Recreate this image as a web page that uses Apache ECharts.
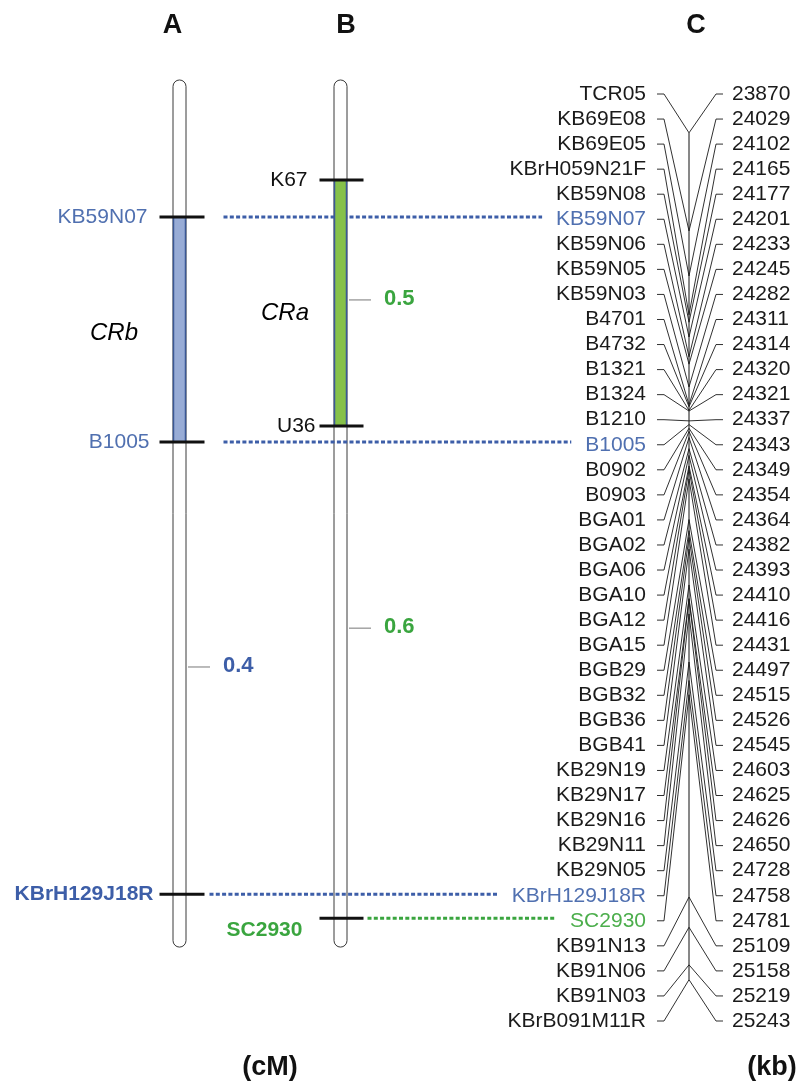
<!DOCTYPE html>
<html>
<head>
<meta charset="utf-8">
<script src="https://cdn.jsdelivr.net/npm/echarts@6/dist/echarts.min.js"></script>
<style>
  html, body { margin: 0; padding: 0; background: #ffffff; }
  #main { width: 808px; height: 1085px; }
</style>
</head>
<body>
<div id="main"></div>
<script>
// ---- Physical map (panel C): marker order and physical position (kb) ----
const physMarkers = [
  'TCR05', 'KB69E08', 'KB69E05', 'KBrH059N21F', 'KB59N08', 'KB59N07', 'KB59N06',
  'KB59N05', 'KB59N03', 'B4701', 'B4732', 'B1321', 'B1324', 'B1210', 'B1005',
  'B0902', 'B0903', 'BGA01', 'BGA02', 'BGA06', 'BGA10', 'BGA12', 'BGA15', 'BGB29',
  'BGB32', 'BGB36', 'BGB41', 'KB29N19', 'KB29N17', 'KB29N16', 'KB29N11', 'KB29N05',
  'KBrH129J18R', 'SC2930', 'KB91N13', 'KB91N06', 'KB91N03', 'KBrB091M11R'
];
const physKb = [
  23870, 24029, 24102, 24165, 24177, 24201, 24233,
  24245, 24282, 24311, 24314, 24320, 24321, 24337, 24343,
  24349, 24354, 24364, 24382, 24393, 24410, 24416, 24431, 24497,
  24515, 24526, 24545, 24603, 24625, 24626, 24650, 24728,
  24758, 24781, 25109, 25158, 25219, 25243
];

// ---- Genetic maps (panels A and B), positions on the shared row scale ----
const mapAMarkers = ['KB59N07', 'B1005', 'KBrH129J18R'];
const mapAPos = [4.91, 13.89, 31.94];
const mapBMarkers = ['K67', 'U36', 'SC2930'];
const mapBPos = [3.43, 13.25, 32.9];
const chromSpan = [-0.56, 34.05];

// Resistance-gene intervals
const regionA = ['KB59N07', 'B1005'];
const regionB = ['K67', 'U36'];
const geneNames = ['CRb', 'CRa'];
const genePos = [9.54, 8.74];

// Genetic distances (cM) between markers
const intervalText = ['0.4', '0.5', '0.6'];
const intervalChrom = ['A', 'B', 'B'];
const intervalPos = [22.87, 8.22, 21.32];

// Markers shared between the genetic maps and the physical map
const sharedMarkers = ['KB59N07', 'B1005', 'KBrH129J18R', 'SC2930'];

const panelTitles = ['A', 'B', 'C'];
const unitLabels = ['(cM)', '(kb)'];

// ---- Layout and styling ----
const FAMILY = '"Liberation Sans", Arial, Helvetica, sans-serif';
const COL = { A: 179.5, B: 340.5 };
const CHROM_W = 13;
const TICK = { A: [-20, 25], B: [-21, 23] };
const LABEL_GAP = { KB59N07: 12, B1005: 10, KBrH129J18R: 6, K67: 12, U36: 4 };
const LINK_GAP = { KB59N07: 19, B1005: 19, KBrH129J18R: 5, SC2930: 4 };
const GENE_DX = { CRb: -65.5, CRa: -55.5 };
const C_CENTER = 689;
const C_NAME_RIGHT = 646;
const C_KB_LEFT = 732;
const BLUE = '#3d5ea8';
const BLUE_LIGHT = '#5070b0';
const GREEN = '#3aa53f';
const GREEN_LIGHT = '#4cae4c';
const markerStyle = {
  KB59N07: { color: BLUE_LIGHT, weight: 'normal' },
  B1005: { color: BLUE_LIGHT, weight: 'normal' },
  KBrH129J18R: { color: BLUE, weight: 'bold' },
  K67: { color: '#111', weight: 'normal' },
  U36: { color: '#111', weight: 'normal' },
  SC2930: { color: GREEN, weight: 'bold' }
};
const physHighlight = { KB59N07: BLUE_LIGHT, B1005: BLUE_LIGHT, KBrH129J18R: BLUE_LIGHT, SC2930: GREEN_LIGHT };

const measureCtx = document.createElement('canvas').getContext('2d');
function textWidth(str, font) { measureCtx.font = font; return measureCtx.measureText(str).width; }

function txt(text, x, y, font, fill, align, valign) {
  return {
    type: 'text',
    style: {
      text: text, x: x, y: y, font: font, fill: fill,
      textAlign: align, textVerticalAlign: valign, align: align, verticalAlign: valign
    }
  };
}

const chart = echarts.init(document.getElementById('main'), null, { renderer: 'canvas' });

const genetic = [];
mapAMarkers.forEach((m, i) => genetic.push({ chrom: 'A', name: m, pos: mapAPos[i] }));
mapBMarkers.forEach((m, i) => genetic.push({ chrom: 'B', name: m, pos: mapBPos[i] }));
const posOf = name => genetic.find(g => g.name === name);

// Chromosome bars
const chromSeries = {
  type: 'custom', xAxisIndex: 0, yAxisIndex: 0, z: 1, silent: true,
  data: ['A', 'B'].map(c => [COL[c], chromSpan[0], chromSpan[1]]),
  renderItem: (params, api) => {
    const t = api.coord([api.value(0), api.value(1)]);
    const b = api.coord([api.value(0), api.value(2)]);
    return {
      type: 'rect',
      shape: { x: t[0] - CHROM_W / 2, y: t[1], width: CHROM_W, height: b[1] - t[1], r: CHROM_W / 2 },
      style: { fill: '#ffffff', stroke: '#3a3a3a', lineWidth: 1 }
    };
  }
};

// Dotted lines linking shared markers to the physical map labels
const nameFont = '21px ' + FAMILY;
const linkSeries = {
  type: 'custom', xAxisIndex: 0, yAxisIndex: 0, z: 2, silent: true,
  data: sharedMarkers.map(name => {
    const g = posOf(name);
    const start = COL[g.chrom] + TICK[g.chrom][1] + LINK_GAP[name];
    const end = C_NAME_RIGHT - textWidth(name, nameFont) - 14;
    return [start, g.pos, end, g.chrom === 'A' ? 0 : 1];
  }),
  renderItem: (params, api) => {
    const a = api.coord([api.value(0), api.value(1)]);
    const b = api.coord([api.value(2), api.value(1)]);
    return {
      type: 'line',
      shape: { x1: a[0], y1: a[1], x2: b[0], y2: b[1] },
      style: { stroke: api.value(3) === 0 ? BLUE : GREEN, lineWidth: 3, lineDash: [4, 2.3] }
    };
  }
};

// Resistance-gene regions
const regionSeries = {
  type: 'custom', xAxisIndex: 0, yAxisIndex: 0, z: 3, silent: true,
  data: [
    [COL.A, posOf(regionA[0]).pos, posOf(regionA[1]).pos, 0],
    [COL.B, posOf(regionB[0]).pos, posOf(regionB[1]).pos, 1]
  ],
  renderItem: (params, api) => {
    const t = api.coord([api.value(0), api.value(1)]);
    const b = api.coord([api.value(0), api.value(2)]);
    return {
      type: 'rect',
      shape: { x: t[0] - CHROM_W / 2 + 0.5, y: t[1], width: CHROM_W - 1, height: b[1] - t[1] },
      style: { fill: api.value(3) === 0 ? '#98acd6' : '#86c14a', stroke: '#3b5896', lineWidth: 1.5 }
    };
  }
};

// Gene names inside the maps
const geneSeries = {
  type: 'custom', xAxisIndex: 0, yAxisIndex: 0, z: 4, silent: true,
  data: geneNames.map((g, i) => [COL[i === 0 ? 'A' : 'B'] + GENE_DX[g], genePos[i], i]),
  renderItem: (params, api) => {
    const p = api.coord([api.value(0), api.value(1)]);
    return txt(geneNames[api.value(2)], p[0], p[1], 'italic 24px ' + FAMILY, '#000', 'center', 'middle');
  }
};

// Marker ticks and labels on the genetic maps
const markerSeries = {
  type: 'custom', xAxisIndex: 0, yAxisIndex: 0, z: 5, silent: true,
  data: genetic.map((g, i) => [COL[g.chrom], g.pos, i]),
  renderItem: (params, api) => {
    const g = genetic[api.value(2)];
    const c = api.coord([api.value(0), api.value(1)]);
    const x1 = c[0] + TICK[g.chrom][0], x2 = c[0] + TICK[g.chrom][1];
    const st = markerStyle[g.name];
    const font = (st.weight === 'bold' ? 'bold ' : '') + '21px ' + FAMILY;
    let label;
    if (g.name === 'SC2930') {
      label = txt(g.name, x1 - 55, c[1] + 12, font, st.color, 'center', 'middle');
    } else {
      label = txt(g.name, x1 - LABEL_GAP[g.name], c[1], font, st.color, 'right', 'middle');
    }
    return {
      type: 'group',
      children: [
        { type: 'line', shape: { x1: x1, y1: c[1], x2: x2, y2: c[1] }, style: { stroke: '#111', lineWidth: 3 } },
        label
      ]
    };
  }
};

// Genetic distance marks
const intervalSeries = {
  type: 'custom', xAxisIndex: 0, yAxisIndex: 0, z: 5, silent: true,
  data: intervalText.map((t, i) => [COL[intervalChrom[i]], intervalPos[i], i]),
  renderItem: (params, api) => {
    const i = api.value(2);
    const c = api.coord([api.value(0), api.value(1)]);
    const x1 = c[0] + CHROM_W / 2 + 2, x2 = x1 + 22;
    return {
      type: 'group',
      children: [
        { type: 'line', shape: { x1: x1, y1: c[1], x2: x2, y2: c[1] }, style: { stroke: '#777', lineWidth: 1 } },
        txt(intervalText[i], x2 + 13, c[1] - 1, 'bold 22px ' + FAMILY, intervalChrom[i] === 'A' ? BLUE : GREEN, 'left', 'middle')
      ]
    };
  }
};

// Physical map: central axis in kb
const axisSeries = {
  type: 'custom', xAxisIndex: 0, yAxisIndex: 1, z: 1, silent: true,
  data: [[C_CENTER, physKb[0], physKb[physKb.length - 1]]],
  renderItem: (params, api) => {
    const a = api.coord([api.value(0), api.value(1)]);
    const b = api.coord([api.value(0), api.value(2)]);
    return { type: 'line', shape: { x1: a[0], y1: a[1], x2: b[0], y2: b[1] }, style: { stroke: '#111', lineWidth: 1 } };
  }
};

// Physical map: marker labels, kb labels and connectors to the kb axis
const physSeries = {
  type: 'custom', xAxisIndex: 0, yAxisIndex: 0, z: 2, silent: true,
  data: physMarkers.map((m, i) => [C_CENTER, i, physKb[i]]),
  renderItem: (params, api) => {
    const row = api.value(1);
    const kb = api.value(2);
    const c = api.coord([api.value(0), row]);
    const py = chart.convertToPixel({ yAxisIndex: 1 }, kb);
    const name = physMarkers[row];
    const lineStyle = { stroke: '#1a1a1a', lineWidth: 0.9, fill: null };
    return {
      type: 'group',
      children: [
        { type: 'polyline', shape: { points: [[c[0] - 32, c[1]], [c[0] - 25, c[1]], [c[0], py]] }, style: lineStyle },
        { type: 'polyline', shape: { points: [[c[0] + 34, c[1]], [c[0] + 27, c[1]], [c[0], py]] }, style: lineStyle },
        txt(name, C_NAME_RIGHT, c[1], nameFont, physHighlight[name] || '#1a1a1a', 'right', 'middle'),
        txt(String(kb), C_KB_LEFT, c[1], nameFont, '#1a1a1a', 'left', 'middle')
      ]
    };
  }
};

const titleX = [172.5, 346, 696];
const unitX = [270, 772];

chart.setOption({
  animation: false,
  backgroundColor: '#ffffff',
  grid: { left: 0, right: 0, top: 94, bottom: 64 },
  xAxis: { type: 'value', min: 0, max: 808, show: false },
  yAxis: [
    { type: 'value', min: 0, max: 37, inverse: true, show: false },
    { type: 'value', min: 23807, max: 25310, inverse: true, show: false }
  ],
  graphic: [].concat(
    panelTitles.map((t, i) => ({
      type: 'text', x: titleX[i], y: 26,
      style: { text: t, font: 'bold 27px ' + FAMILY, fill: '#111', textAlign: 'center', textVerticalAlign: 'middle', align: 'center', verticalAlign: 'middle' }
    })),
    unitLabels.map((t, i) => ({
      type: 'text', x: unitX[i], y: 1068,
      style: { text: t, font: 'bold 27px ' + FAMILY, fill: '#111', textAlign: 'center', textVerticalAlign: 'middle', align: 'center', verticalAlign: 'middle' }
    }))
  ),
  series: [chromSeries, axisSeries, linkSeries, physSeries, regionSeries, geneSeries, markerSeries, intervalSeries]
});
</script>
</body>
</html>
